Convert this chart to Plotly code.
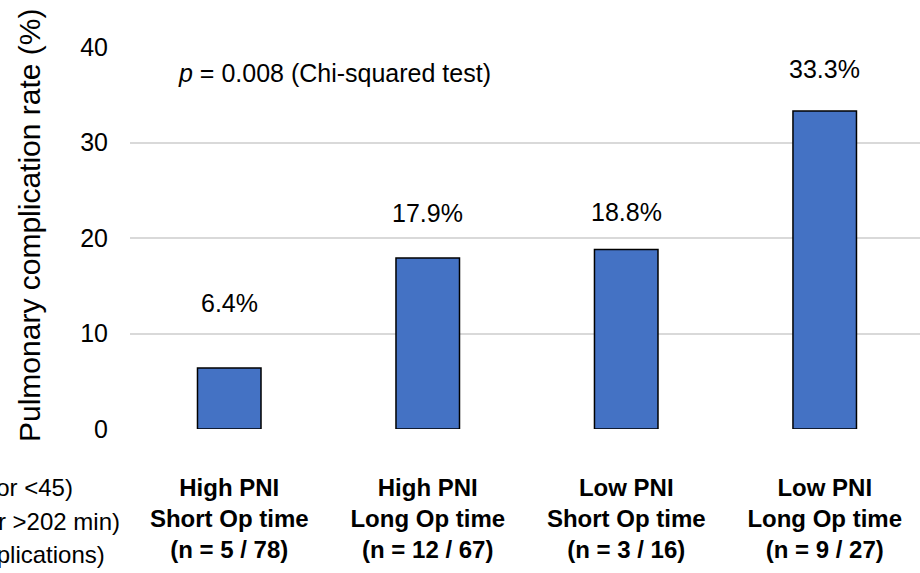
import plotly.graph_objects as go

# Data
group_pni = ["High PNI", "High PNI", "Low PNI", "Low PNI"]
group_op = ["Short Op time", "Long Op time", "Short Op time", "Long Op time"]
n_events = [5, 12, 3, 9]
n_total = [78, 67, 16, 27]
rates = [6.4, 17.9, 18.8, 33.3]
rate_labels = ["6.4%", "17.9%", "18.8%", "33.3%"]
y_ticks = [0, 10, 20, 30, 40]
p_text = "<i>p</i> = 0.008 (Chi-squared test)"
row_labels = ["(PNI ≥45 or <45)", "(Op time ≤202 or >202 min)", "(Pulmonary complications)"]

# style: label offsets above bar top (px)
label_shift = [65, 45, 37, 42]

FONT = "Arial, Liberation Sans, sans-serif"
W, H = 920, 573
L, R, T, B = 130, 0, 47, 144

cats = list(range(len(rates)))
ticktext = [f"<b>{a}<br>{b}<br>(n = {e} / {t})</b>" for a, b, e, t in zip(group_pni, group_op, n_events, n_total)]

fig = go.Figure(go.Bar(
    x=cats, y=rates, width=0.32,
    marker=dict(color="#4472C4", line=dict(color="black", width=1.5)),
    hoverinfo="skip",
))

annotations = []
for c, v, lab, s in zip(cats, rates, rate_labels, label_shift):
    annotations.append(dict(x=c, y=v, xref="x", yref="y", text=lab, showarrow=False,
                            yshift=s, font=dict(size=25, color="black", family=FONT)))

def px_x(px):
    return (px - L) / (W - L - R)

def px_y(py):
    return 1 - (py - T) / (H - T - B)

annotations.append(dict(x=px_x(176), y=px_y(73), xref="paper", yref="paper", text=p_text,
                        showarrow=False, xanchor="left", yanchor="middle",
                        font=dict(size=25, color="black", family=FONT)))
annotations.append(dict(x=px_x(29), y=px_y(225), xref="paper", yref="paper",
                        text="Pulmonary complication rate (%)", textangle=-90, showarrow=False,
                        xanchor="center", yanchor="middle",
                        font=dict(size=30, color="black", family=FONT)))
for txt, rx, cy in zip(row_labels, [75, 122, 107], [487, 521, 554]):
    annotations.append(dict(x=px_x(rx), y=px_y(cy), xref="paper", yref="paper", text=txt,
                            showarrow=False, xanchor="right", yanchor="middle",
                            font=dict(size=24, color="black", family=FONT)))

fig.update_layout(
    width=W, height=H,
    margin=dict(l=L, r=R, t=T, b=B),
    plot_bgcolor="white", paper_bgcolor="white",
    showlegend=False,
    font=dict(family=FONT, size=24, color="black"),
    xaxis=dict(tickmode="array", tickvals=cats, ticktext=ticktext, range=[-0.5, 3.48],
               showgrid=False, zeroline=False, showline=False, ticks="",
               tickfont=dict(size=24, family=FONT, color="black"), ticklabelstandoff=42),
    yaxis=dict(range=[0, 40], tickvals=y_ticks, showgrid=True, gridcolor="#D9D9D9", gridwidth=1.5,
               zeroline=False, showline=False, ticks="", ticklabelstandoff=21,
               tickfont=dict(size=25, family=FONT, color="black")),
    annotations=annotations,
)

fig.write_html("out.html", config={"displayModeBar": False},
               post_script="document.body.style.margin='0';")
